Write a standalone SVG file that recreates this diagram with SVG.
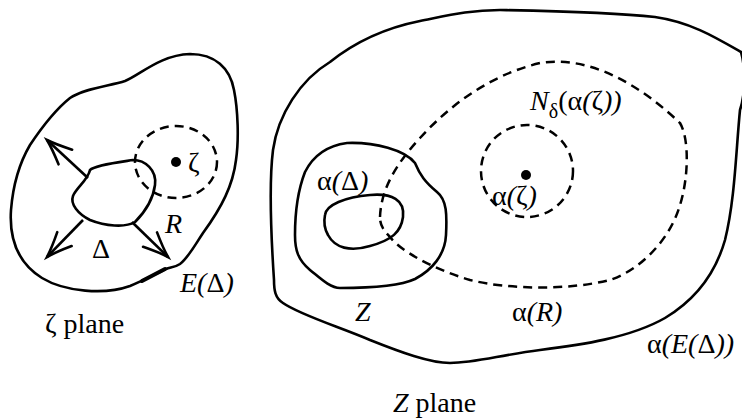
<svg xmlns="http://www.w3.org/2000/svg" width="742" height="418" viewBox="0 0 742 418">
  <style>
    .solid { fill: none; stroke: #000; stroke-width: 2.6; stroke-linejoin: round; }
    .dash { fill: none; stroke: #000; stroke-width: 2.5; stroke-dasharray: 9 6; }
    .arrow { fill: none; stroke: #000; stroke-width: 2.6; marker-end: url(#ah); }
    .dot { fill: #000; }
    text { font-family: "Liberation Serif", "Times New Roman", serif; font-size: 28px; fill: #000; }
    .it { font-style: italic; }
  </style>
  <defs>
    <marker id="ah" markerUnits="userSpaceOnUse" markerWidth="40" markerHeight="30" viewBox="-30 -15 40 30" refX="0" refY="0" orient="auto" overflow="visible">
      <path d="M -25 -10 Q -10 -3 0 0 Q -10 3 -25 10" fill="none" stroke="#000" stroke-width="2.6" stroke-linecap="round"/>
    </marker>
  </defs>

  <!-- zeta plane -->
  <g id="zeta-outer">
    <path class="solid" d="M 30 145 C 40 130, 55 110, 70 98 C 85 88, 110 86, 125 81 C 140 75, 160 55, 190 54 C 215 54, 230 68, 234 90 C 238 110, 239 140, 236 160 C 233 185, 222 207, 203 233 C 195 245, 188 258, 180 264 C 174 268, 170 267, 166 269 C 155 274, 145 280, 130 286 C 105 295, 65 292, 42 278 C 18 263, 9 240, 11 210 C 13 185, 20 162, 30 145 Z"/>
    <line x1="142" y1="281" x2="165" y2="269" stroke="#000" stroke-width="4" stroke-linecap="round"/>
  </g>
  <g id="delta">
    <path class="solid" d="M 90 170 C 95 165, 120 162, 133 160 C 145 160, 157 170, 155 185 C 153 200, 145 212, 135 222 C 125 228, 105 226, 90 220 C 78 214, 70 204, 73 196 C 76 188, 88 180, 90 170 Z"/>
  </g>
  <g id="zeta-disc">
    <ellipse class="dash" cx="176" cy="162" rx="41" ry="36"/>
    <circle class="dot" cx="176" cy="162" r="5"/>
  </g>
  <g id="zeta-labels">
    <text x="188" y="172">ζ</text>
    <text x="165" y="233" class="it">R</text>
    <text x="92" y="258">Δ</text>
    <text x="180" y="292"><tspan class="it">E(</tspan>Δ<tspan class="it">)</tspan></text>
    <text x="45" y="333">ζ plane</text>
  </g>

  <!-- Z plane -->
  <g id="z-outer">
    <path class="solid" d="M 283 303 C 275 298, 274 290, 274 280 C 272 250, 268 190, 273 150 C 278 115, 300 80, 330 62 C 355 42, 385 28, 420 21 C 450 15, 470 10, 500 10 C 550 11, 610 12, 655 17 C 690 22, 715 37, 741 52 C 746 70, 745 95, 740 110 C 736 150, 735 200, 725 240 C 715 275, 695 300, 665 318 C 630 338, 580 345, 540 350 C 500 355, 475 363, 450 363 C 430 363, 400 352, 370 340 C 340 327, 300 315, 283 303 Z"/>
  </g>
  <g id="z-region">
    <path class="solid" d="M 347 143 C 375 142, 405 150, 415 163 C 420 175, 425 182, 437 192 C 447 200, 447 215, 446 235 C 445 255, 432 270, 415 279 C 400 286, 375 288, 340 288 C 330 288, 320 278, 310 270 C 298 260, 295 250, 295 235 C 295 210, 298 190, 305 172 C 312 158, 325 146, 347 143 Z"/>
  </g>
  <g id="alpha-delta">
    <path class="solid" d="M 325 215 C 326 205, 345 197, 370 195 C 392 193, 405 200, 403 217 C 401 232, 392 240, 370 246 C 350 252, 335 248, 328 235 C 324 228, 324 220, 325 215 Z"/>
  </g>
  <g id="alpha-R">
    <path class="dash" d="M 380 217 C 381 190, 395 165, 420 138 C 450 105, 490 75, 540 63 C 590 55, 640 85, 680 123 C 690 140, 688 180, 680 205 C 670 240, 640 270, 610 280 C 570 290, 510 290, 470 280 C 430 268, 400 250, 390 237 C 383 230, 380 225, 380 217 Z"/>
  </g>
  <g id="n-delta">
    <circle class="dash" cx="527" cy="171" r="46"/>
    <circle class="dot" cx="526" cy="175" r="5"/>
  </g>
  <g id="z-labels">
    <text x="317" y="190">α<tspan class="it">(</tspan>Δ<tspan class="it">)</tspan></text>
    <text x="530" y="110"><tspan class="it">N</tspan><tspan font-size="20" dy="8">δ</tspan><tspan dy="-8">(α</tspan><tspan class="it">(</tspan>ζ<tspan class="it">))</tspan></text>
    <text x="492" y="205">α<tspan class="it">(</tspan>ζ<tspan class="it">)</tspan></text>
    <text x="355" y="321" class="it">Z</text>
    <text x="512" y="321">α<tspan class="it">(R)</tspan></text>
    <text x="647" y="353">α<tspan class="it">(E(</tspan>Δ<tspan class="it">))</tspan></text>
    <text x="393" y="412"><tspan class="it">Z</tspan> plane</text>
  </g>

  <g id="connectors">
    <line class="arrow" x1="88" y1="178" x2="47" y2="140"/>
    <line class="arrow" x1="83" y1="220" x2="47" y2="257"/>
    <line class="arrow" x1="132" y1="222" x2="168" y2="257"/>
  </g>
</svg>
